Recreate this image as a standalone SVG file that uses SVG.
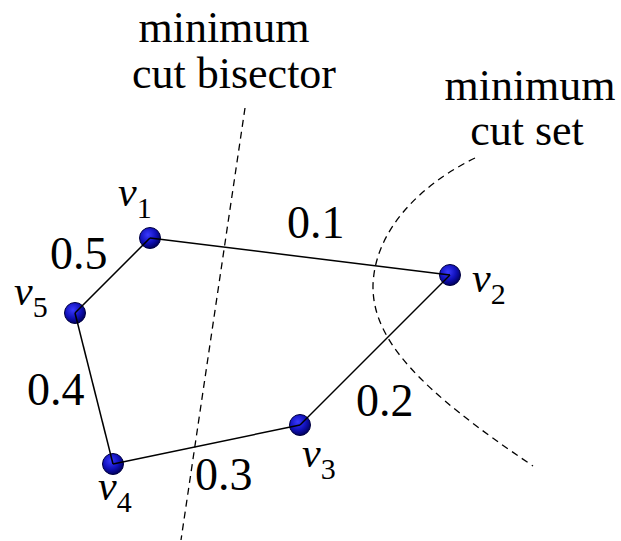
<svg xmlns="http://www.w3.org/2000/svg" width="621" height="541" viewBox="0 0 621 541">
<defs>
<radialGradient id="ball" cx="0.4" cy="0.35" r="0.65">
<stop offset="0" stop-color="#3a3aff"/>
<stop offset="0.6" stop-color="#1010b8"/>
<stop offset="1" stop-color="#000060"/>
</radialGradient>
</defs>
<style>
.lab{font-size:44px;text-anchor:middle}
.num{font-size:46px}
.v{font-size:42px;font-style:italic}
.sub{font-size:30px;font-style:normal}
.node{fill:url(#ball);stroke:#000040;stroke-width:1}
.edge{stroke:#000;stroke-width:1.5;fill:none}
.cut{stroke:#000;stroke-width:1.3;fill:none;stroke-dasharray:7,5}
</style>
<rect width="621" height="541" fill="#fff"/>
<g font-family="Liberation Serif, DejaVu Serif, serif" fill="#000">
<g id="label-bisector">
<text class="lab" x="224" y="42">minimum</text>
<text class="lab" x="234" y="88">cut bisector</text>
</g>
<g id="label-cutset">
<text class="lab" x="530" y="100">minimum</text>
<text class="lab" x="527" y="145">cut set</text>
</g>
<g id="cut-lines">
<path class="cut" d="M245,108 L181,540"/>
<path class="cut" d="M475,158 C420,185 375,230 373,285 C372,340 420,390 533,466"/>
</g>
<g id="v1"><circle class="node" cx="150" cy="238" r="10.5"/><text class="v" x="118" y="206">v<tspan class="sub" dy="12">1</tspan></text></g>
<g id="v2"><circle class="node" cx="450" cy="275" r="10.5"/><text class="v" x="472" y="292">v<tspan class="sub" dy="12">2</tspan></text></g>
<g id="v3"><circle class="node" cx="300" cy="425" r="10.5"/><text class="v" x="302" y="467">v<tspan class="sub" dy="12">3</tspan></text></g>
<g id="v4"><circle class="node" cx="113" cy="464" r="10.5"/><text class="v" x="98" y="500">v<tspan class="sub" dy="12">4</tspan></text></g>
<g id="v5"><circle class="node" cx="75" cy="313" r="10.5"/><text class="v" x="14" y="305">v<tspan class="sub" dy="12">5</tspan></text></g>
<g id="edges">
<line class="edge" x1="150" y1="238" x2="450" y2="275"/>
<line class="edge" x1="450" y1="275" x2="300" y2="425"/>
<line class="edge" x1="300" y1="425" x2="113" y2="464"/>
<line class="edge" x1="113" y1="464" x2="75" y2="313"/>
<line class="edge" x1="75" y1="313" x2="150" y2="238"/>
</g>
<g id="edge-labels">
<text class="num" x="287" y="238">0.1</text>
<text class="num" x="356" y="416">0.2</text>
<text class="num" x="195" y="490">0.3</text>
<text class="num" x="27" y="405">0.4</text>
<text class="num" x="50" y="269">0.5</text>
</g>
</g>
</svg>
